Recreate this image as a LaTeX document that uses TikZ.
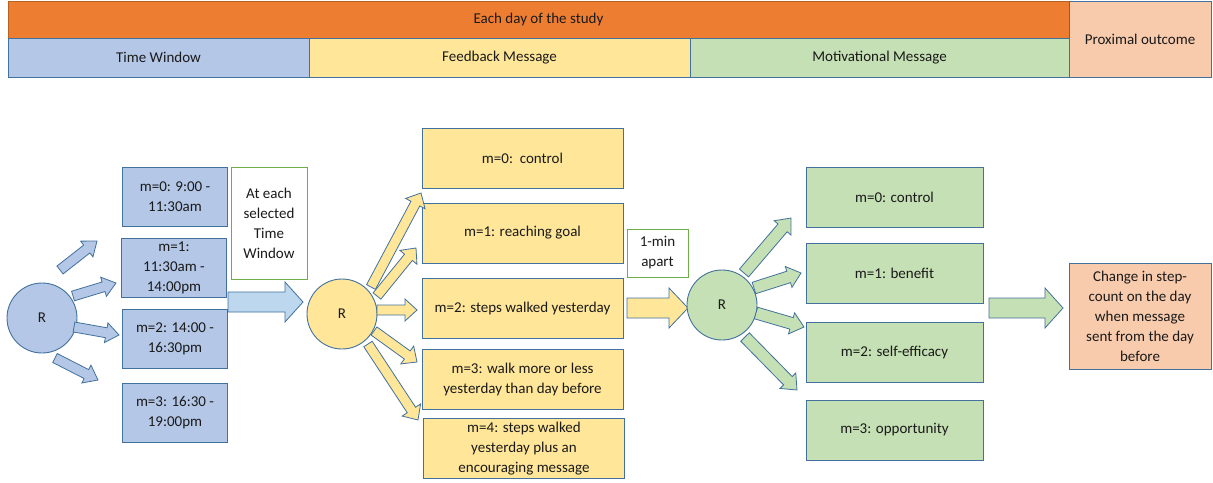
\documentclass[tikz,border=0pt]{standalone}
\usepackage{fontspec}
\setmainfont{Carlito}
\usetikzlibrary{calc}
\definecolor{orangeF}{HTML}{ED7D31}
\definecolor{orangeD}{HTML}{B85F22}
\definecolor{blueF}{HTML}{B4C7E7}
\definecolor{blueD}{HTML}{41719C}
\definecolor{lblueF}{HTML}{BDD7EE}
\definecolor{yellowF}{HTML}{FFE699}
\definecolor{greenF}{HTML}{C5E0B4}
\definecolor{greenD}{HTML}{70AD47}
\definecolor{peachF}{HTML}{F8CBAD}
\definecolor{txt}{HTML}{1A1A1A}
% block arrow: #1 style, #2 start, #3 tip, #4 shaft half width, #5 head half width, #6 head length
\newcommand{\blockarr}[6]{%
  \coordinate (barH) at ($(#3)!#6!(#2)$);
  \draw[#1] ($(#2)!#4!90:(#3)$) -- ($(barH)!#4!-90:(#2)$) -- ($(barH)!#5!-90:(#2)$) -- (#3)
    -- ($(barH)!#5!90:(#2)$) -- ($(barH)!#4!90:(#2)$) -- ($(#2)!#4!-90:(#3)$) -- cycle;}
\begin{document}
\begin{tikzpicture}[x=1pt,y=-1pt,
  every node/.style={font=\fontsize{15}{20}\selectfont, text=txt, align=center, inner sep=0pt},
  hdr/.style={draw=blueD, line width=0.8pt},
  bbox/.style={draw=blueD, line width=0.9pt, fill=blueF, minimum width=105pt, minimum height=59pt},
  ybox/.style={draw=blueD, line width=0.9pt, fill=yellowF, minimum width=201pt, minimum height=60pt},
  gbox/.style={draw=blueD, line width=0.9pt, fill=greenF, minimum width=177pt, minimum height=60pt},
  note/.style={draw=greenD, line width=0.9pt, fill=white},
  circ/.style={circle, draw=blueD, line width=0.9pt, minimum size=70pt},
  barB/.style={draw=blueD, line width=0.8pt, fill=blueF, line join=miter},
  barBB/.style={draw=blueD, line width=0.8pt, fill=lblueF, line join=miter},
  barY/.style={draw=blueD, line width=0.8pt, fill=yellowF, line join=miter},
  barG/.style={draw=blueD, line width=0.8pt, fill=greenF, line join=miter}]
\useasboundingbox (0,0) rectangle (1213,482);

% header
\node[draw=orangeD, line width=0.8pt, fill=orangeF, minimum width=1061pt, minimum height=37pt] (day) at (538.5,19.5) {Each day of the study};
\node[hdr, fill=blueF, minimum width=301pt, minimum height=39pt] (hTW) at (158.5,57.5) {Time Window};
\node[hdr, fill=yellowF, minimum width=381pt, minimum height=39pt] (hFM) at (499.5,57.5) {Feedback Message};
\node[hdr, fill=greenF, minimum width=379pt, minimum height=39pt] (hMM) at (879.5,57.5) {Motivational Message};
\node[hdr, fill=peachF, minimum width=142pt, minimum height=76pt] (hPO) at (1140,39) {Proximal outcome};

% time window section
\node[circ, fill=blueF] (R1) at (42,318) {R};
\node[bbox] (b0) at (175,197) {m=0: 9:00 -\\11:30am};
\node[bbox] (b1) at (174,268) {m=1:\\11:30am -\\14:00pm};
\node[bbox] (b2) at (175,338.5) {m=2: 14:00 -\\16:30pm};
\node[bbox] (b3) at (175,412.5) {m=3: 16:30 -\\19:00pm};
\node[note, minimum width=76pt, minimum height=112pt] (n1) at (269,223) {At each\\selected\\Time\\Window};

\coordinate (a1s) at (60,270);  \coordinate (a1t) at (97,241);
\coordinate (a2s) at (73,296);  \coordinate (a2t) at (116,283);
\coordinate (a3s) at (74,327);  \coordinate (a3t) at (119,335);
\coordinate (a4s) at (55,358);  \coordinate (a4t) at (98,380);
\blockarr{barB}{a1s}{a1t}{5pt}{10pt}{13pt}
\blockarr{barB}{a2s}{a2t}{5pt}{10pt}{13pt}
\blockarr{barB}{a3s}{a3t}{5pt}{10pt}{13pt}
\blockarr{barB}{a4s}{a4t}{5pt}{10pt}{13pt}

\coordinate (A1s) at (228,302); \coordinate (A1t) at (303,302);
\blockarr{barBB}{A1s}{A1t}{10pt}{20pt}{18pt}

% feedback section
\node[circ, fill=yellowF] (R2) at (342,314) {R};
\node[ybox] (y0) at (522.5,158) {m=0:\ \ control};
\node[ybox] (y1) at (522.5,233) {m=1: reaching goal};
\node[ybox] (y2) at (522.5,308) {m=2: steps walked yesterday};
\node[ybox] (y3) at (522.5,379) {m=3: walk more or less\\yesterday than day before};
\node[ybox] (y4) at (524,448.5) {m=4: steps walked\\yesterday plus an\\encouraging message};

\coordinate (c1s) at (371,287); \coordinate (c1t) at (421,193);
\coordinate (c2s) at (377,296); \coordinate (c2t) at (416,248);
\coordinate (c3s) at (377,310); \coordinate (c3t) at (417,310);
\coordinate (c4s) at (374,331); \coordinate (c4t) at (417,362);
\coordinate (c5s) at (368,344); \coordinate (c5t) at (418,420);
\blockarr{barY}{c1s}{c1t}{5pt}{11pt}{12pt}
\blockarr{barY}{c2s}{c2t}{5pt}{11pt}{12pt}
\blockarr{barY}{c3s}{c3t}{5pt}{11pt}{12pt}
\blockarr{barY}{c4s}{c4t}{5pt}{11pt}{12pt}
\blockarr{barY}{c5s}{c5t}{5pt}{11pt}{12pt}

\node[note, minimum width=61pt, minimum height=48pt] (n2) at (657.5,253) {1-min\\apart};
\coordinate (A2s) at (627,308); \coordinate (A2t) at (688,308);
\blockarr{barY}{A2s}{A2t}{10pt}{20pt}{19pt}

% motivational section
\node[circ, fill=greenF] (R3) at (722,305) {R};
\node[gbox] (g0) at (894.5,197) {m=0: control};
\node[gbox] (g1) at (894.5,273) {m=1: benefit};
\node[gbox] (g2) at (894.5,352) {m=2: self-efficacy};
\node[gbox] (g3) at (894.5,430) {m=3: opportunity};

\coordinate (d1s) at (744,273); \coordinate (d1t) at (791,218);
\coordinate (d2s) at (754,288); \coordinate (d2t) at (801,273);
\coordinate (d3s) at (756,313); \coordinate (d3t) at (804,327);
\coordinate (d4s) at (745,337); \coordinate (d4t) at (797,390);
\blockarr{barG}{d1s}{d1t}{6pt}{11pt}{13pt}
\blockarr{barG}{d2s}{d2t}{6pt}{11pt}{13pt}
\blockarr{barG}{d3s}{d3t}{6pt}{11pt}{13pt}
\blockarr{barG}{d4s}{d4t}{6pt}{11pt}{13pt}

\coordinate (A3s) at (989,308); \coordinate (A3t) at (1063,308);
\blockarr{barG}{A3s}{A3t}{10pt}{20pt}{18pt}

\node[draw=blueD, line width=0.9pt, fill=peachF, minimum width=142pt, minimum height=106pt] (out) at (1140,316) {Change in step-\\count on the day\\when message\\sent from the day\\before};
\end{tikzpicture}
\end{document}
